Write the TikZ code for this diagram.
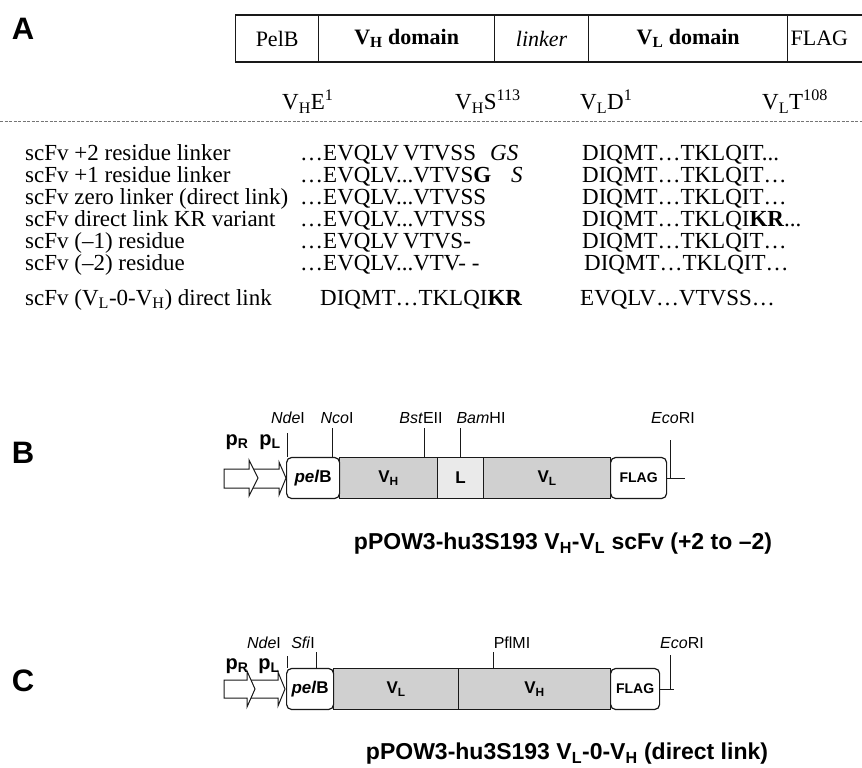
\documentclass[tikz,border=0pt]{standalone}
\usepackage{fontspec}
\setmainfont{Liberation Serif}
\setsansfont{Liberation Sans}
\usetikzlibrary{arrows.meta, positioning, calc}
\definecolor{DG}{RGB}{25,25,25}
\definecolor{GR}{RGB}{208,208,208}
\definecolor{LGr}{RGB}{234,234,234}

\begin{document}
\begin{tikzpicture}[x=1pt, y=-1pt,
  panel/.style={font=\fontsize{31}{31}\sffamily\bfseries, inner sep=0pt},
  cell/.style={draw=DG, line width=1.3pt, minimum height=47, inner sep=0pt,
               font=\fontsize{22}{22}\selectfont, anchor=west},
  seqtxt/.style={font=\fontsize{23}{23}\selectfont, anchor=base west, inner sep=0pt},
  seg/.style={draw=DG, line width=1.2pt, minimum height=41, inner sep=0pt,
              anchor=west, font=\fontsize{17}{17}\sffamily\bfseries},
  wseg/.style={seg, fill=white, rounded corners=5pt},
  vseg/.style={seg, fill=#1},
  site/.style={font=\fontsize{16}{16}\sffamily, inner sep=0pt},
  sitetick/.style={draw=DG, line width=1pt},
  prom/.style={draw=DG, line width=1pt, fill=white},
  promlab/.style={font=\fontsize{20}{20}\sffamily\bfseries, inner sep=0pt},
  plasmid/.style={font=\fontsize{23}{23}\sffamily\bfseries, inner sep=0pt}
]
\useasboundingbox (0,0) rectangle (862,768);
\fill[white] (0,0) rectangle (862,768);

% Panel A: domain order
\node[panel] (labA) at (23,29) {A};
\node[cell, minimum width=83]  (pelb) at (235,38.5) {PelB};
\node[cell, minimum width=176] (vhd)  at (318,38.5) {\textbf{V\textsubscript{H} domain}};
\node[cell, minimum width=94]  (lnk)  at (494,38.5) {\textit{linker}};
\node[cell, minimum width=199] (vld)  at (588,38.5) {\textbf{V\textsubscript{L} domain}};
\node[cell, minimum width=100, text width=94, align=left] (flg) at (787,38.5) {FLAG};

\node[seqtxt] (hvh1) at (282,110) {V\textsubscript{H}E\textsuperscript{1}};
\node[seqtxt] (hvh2) at (455,110) {V\textsubscript{H}S\textsuperscript{113}};
\node[seqtxt] (hvl1) at (580,110) {V\textsubscript{L}D\textsuperscript{1}};
\node[seqtxt] (hvl2) at (762,110) {V\textsubscript{L}T\textsuperscript{108}};
\draw[DG!60, line width=0.8pt, dash pattern=on 3pt off 1.5pt] (0,121) -- (862,121);

% sequences at the junction
\node[seqtxt] (r1) at (25,160) {scFv +2 residue linker};
\node[seqtxt] (r1h) at (300,160) {…EVQLV};
\node[seqtxt] (r1s) at (403,160) {VTVSS};
\node[seqtxt] (r1k) at (490,160) {\textit{GS}};
\node[seqtxt] (r1l) at (582,160) {DIQMT…TKLQIT...};

\node[seqtxt] (r2) at (25,182) {scFv +1 residue linker};
\node[seqtxt] (r2h) at (300,182) {…EVQLV...VTVS\textbf{G}};
\node[seqtxt] (r2k) at (511,182) {\textit{S}};
\node[seqtxt] (r2l) at (582,182) {DIQMT…TKLQIT…};

\node[seqtxt] (r3) at (25,204) {scFv zero linker (direct link)};
\node[seqtxt] (r3h) at (300,204) {…EVQLV...VTVSS};
\node[seqtxt] (r3l) at (582,204) {DIQMT…TKLQIT…};

\node[seqtxt] (r4) at (25,226) {scFv direct link KR variant};
\node[seqtxt] (r4h) at (300,226) {…EVQLV...VTVSS};
\node[seqtxt] (r4l) at (582,226) {DIQMT…TKLQI\textbf{KR}...};

\node[seqtxt] (r5) at (25,248) {scFv (–1) residue};
\node[seqtxt] (r5h) at (300,248) {…EVQLV};
\node[seqtxt] (r5s) at (403,248) {VTVS-};
\node[seqtxt] (r5l) at (582,248) {DIQMT…TKLQIT…};

\node[seqtxt] (r6) at (25,270) {scFv (–2) residue};
\node[seqtxt] (r6h) at (300,270) {…EVQLV...VTV- -};
\node[seqtxt] (r6l) at (584,270) {DIQMT…TKLQIT…};

\node[seqtxt] (r7) at (25,305) {scFv (V\textsubscript{L}-0-V\textsubscript{H}) direct link};
\node[seqtxt] (r7l) at (320,305) {DIQMT…TKLQI\textbf{KR}};
\node[seqtxt] (r7h) at (580,305) {EVQLV…VTVSS…};

% Panel B: VH-VL construct
\node[panel] (labB) at (23,453) {B};
\draw[prom] (252,469) -- (279,469) -- (279,462) -- (286,478) -- (279,495) -- (279,488) -- (252,488) -- cycle;
\draw[prom] (224,469) -- (249,469) -- (249,460) -- (258,478) -- (249,496) -- (249,488) -- (224,488) -- cycle;
\node[promlab] (prB) at (237,442) {p\textsubscript{R}};
\node[promlab] (plB) at (270,442) {p\textsubscript{L}};

\node[vseg=GR, minimum width=98]  (vhB)   at (339,478) {V\textsubscript{H}};
\node[vseg=LGr, minimum width=46] (lB)    at (437,478) {L};
\node[vseg=GR, minimum width=127] (vlB)   at (483,478) {V\textsubscript{L}};
\node[wseg, minimum width=53]     (pelbB) at (286,478) {\textit{pel}B};
\node[wseg, minimum width=56, font=\fontsize{14}{14}\sffamily\bfseries] (flagB) at (610,478) {FLAG};

\node[site] (ndeB) at (288,418) {\textit{Nde}I};
\node[site] (ncoB) at (337,418) {\textit{Nco}I};
\node[site] (bstB) at (421,418) {\textit{Bst}EII};
\node[site] (bamB) at (481,418) {\textit{Bam}HI};
\node[site] (ecoB) at (673,418) {\textit{Eco}RI};
\coordinate (tNdeB) at (287,433);
\coordinate (tNcoB) at (332,428);
\coordinate (tBstB) at (424,428);
\coordinate (tBamB) at (460,428);
\coordinate (tEcoB) at (670,440);
\draw[sitetick] (tNdeB) -- (tNdeB |- pelbB.north);
\draw[sitetick] (tNcoB) -- (tNcoB |- pelbB.north);
\draw[sitetick] (tBstB) -- (tBstB |- vhB.north);
\draw[sitetick] (tBamB) -- (tBamB |- lB.north);
\draw[sitetick] (tEcoB) -- (tEcoB |- flagB.east);
\draw[sitetick] (flagB.east) -- ++(18,0);
\node[plasmid] (titB) at (563,544) {pPOW3-hu3S193 V\textsubscript{H}-V\textsubscript{L} scFv (+2 to –2)};

% Panel C: VL-0-VH construct
\node[panel] (labC) at (23,681) {C};
\draw[prom] (251,680) -- (278,680) -- (278,672) -- (285,689) -- (278,706) -- (278,698) -- (251,698) -- cycle;
\draw[prom] (224,680) -- (247,680) -- (247,671) -- (255,689) -- (247,707) -- (247,698) -- (224,698) -- cycle;
\node[promlab] (prC) at (237,666) {p\textsubscript{R}};
\node[promlab] (plC) at (269,666) {p\textsubscript{L}};

\node[vseg=GR, minimum width=125] (vlC)   at (333,689) {V\textsubscript{L}};
\node[vseg=GR, minimum width=152] (vhC)   at (458,689) {V\textsubscript{H}};
\node[wseg, minimum width=47]     (pelbC) at (286,689) {\textit{pel}B};
\node[wseg, minimum width=49, font=\fontsize{14}{14}\sffamily\bfseries] (flagC) at (610,689) {FLAG};

\node[site] (ndeC) at (264,643) {\textit{Nde}I};
\node[site] (sfiC) at (303,643) {\textit{Sfi}I};
\node[site] (pflC) at (512,643) {PflMI};
\node[site] (ecoC) at (682,643) {\textit{Eco}RI};
\coordinate (tNdeC) at (287,656);
\coordinate (tSfiC) at (316,652);
\coordinate (tPflC) at (493,652);
\coordinate (tEcoC) at (670,655);
\draw[sitetick] (tNdeC) -- (tNdeC |- pelbC.north);
\draw[sitetick] (tSfiC) -- (tSfiC |- pelbC.north);
\draw[sitetick] (tPflC) -- (tPflC |- vhC.north);
\draw[sitetick] (tEcoC) -- (tEcoC |- flagC.east);
\draw[sitetick] (flagC.east) -- ++(14,0);
\node[plasmid] (titC) at (567,754) {pPOW3-hu3S193 V\textsubscript{L}-0-V\textsubscript{H} (direct link)};
\end{tikzpicture}
\end{document}
